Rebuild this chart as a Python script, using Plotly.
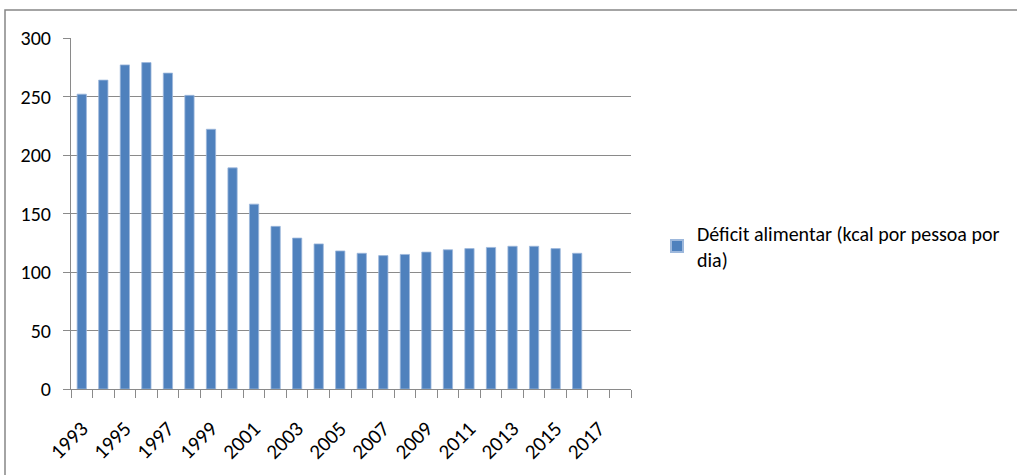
import plotly.graph_objects as go

categories = [str(y) for y in range(1993, 2019)]
years = [str(y) for y in range(1993, 2017)]
values = [252, 264, 277, 279, 270, 251, 222, 189, 158, 139, 129, 124, 118, 116,
          114, 115, 117, 119, 120, 121, 122, 122, 120, 116]
tick_labels = [c if int(c) % 2 == 1 else "" for c in categories]
series_name = "Déficit alimentar (kcal por pessoa por<br>dia)"

FONT = "Carlito, Calibri, Lato, sans-serif"
GRAY = "#8a8a8a"

W, H = 1017, 475
L, R, T, B = 71, 631, 38, 389

fig = go.Figure()
fig.add_trace(go.Bar(
    x=years, y=values, name=series_name,
    marker=dict(color="#4F81BD", line=dict(color="#9db8dc", width=0.8)),
    showlegend=True,
))

def px_x(p):
    return (p - L) / (R - L)

def px_y(p):
    return (B - p) / (B - T)

fig.update_layout(
    width=W, height=H,
    margin=dict(l=L, r=W - R, t=T, b=H - B),
    paper_bgcolor="white", plot_bgcolor="white",
    font=dict(family=FONT, size=20, color="#000000"),
    bargap=0.57,
    showlegend=True,
    legend=dict(x=px_x(657), y=px_y(246), xanchor="left", yanchor="middle",
                font=dict(family=FONT, size=20), bgcolor="rgba(0,0,0,0)",
                itemsizing="constant"),
    xaxis=dict(
        type="category", categoryorder="array", categoryarray=categories,
        range=[-0.5, len(categories) - 0.5],
        tickmode="array", tickvals=categories, ticktext=tick_labels,
        tickson="boundaries", ticks="outside", ticklen=8, tickcolor=GRAY,
        tickangle=-45, showgrid=False, showline=True, linecolor=GRAY, linewidth=1,
        zeroline=False, ticklabelstandoff=18, tickfont=dict(size=21),
    ),
    yaxis=dict(
        range=[0, 300], tickvals=[0, 50, 100, 150, 200, 250, 300],
        ticks="outside", ticklen=7, tickcolor=GRAY,
        showgrid=True, gridcolor=GRAY, gridwidth=1,
        showline=True, linecolor=GRAY, linewidth=1, zeroline=False,
        ticklabelstandoff=8,
    ),
    shapes=[dict(type="rect", xref="paper", yref="paper",
                 x0=px_x(5), x1=px_x(1030), y0=px_y(490), y1=px_y(10),
                 line=dict(color="#868686", width=1.5), layer="below")],
)

fig.write_html("out.html", config={"displayModeBar": False},
               post_script="document.body.style.margin='0';document.body.style.overflow='hidden';")
